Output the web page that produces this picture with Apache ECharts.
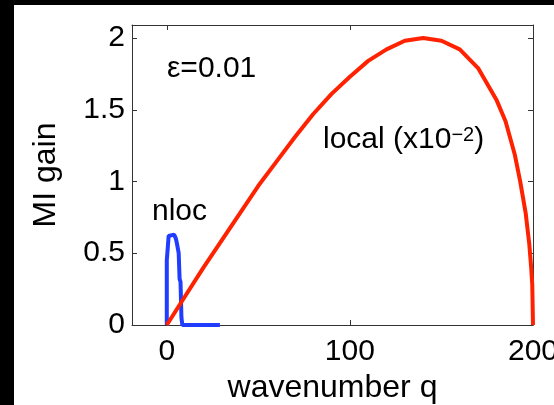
<!DOCTYPE html>
<html>
<head>
<meta charset="utf-8">
<script src="https://cdn.jsdelivr.net/npm/echarts@6/dist/echarts.min.js"></script>
<style>
html,body{margin:0;padding:0;background:#000;width:554px;height:405px;overflow:hidden;}
#c{position:absolute;left:14px;top:5px;width:540px;height:400px;background:#fff;}
</style>
</head>
<body>
<div id="c"></div>
<script>
// Data
const localQ = [0, 10, 20, 30, 40, 50, 60, 70, 80, 90, 100, 110, 120, 130, 140, 150, 160, 170, 180, 185, 190, 193, 196, 198, 199, 199.6, 200];
const localV = [0, 0.20, 0.40, 0.59, 0.78, 0.97, 1.14, 1.31, 1.47, 1.61, 1.73, 1.84, 1.92, 1.98, 2.00, 1.98, 1.92, 1.79, 1.57, 1.42, 1.19, 1.00, 0.78, 0.56, 0.40, 0.28, 0];
const nlocQ = [0, 0, 0.6, 1, 2, 4, 5, 5.5, 6, 6.5, 7, 7.5, 8, 8.5, 29];
const nlocV = [0, 0.45, 0.55, 0.62, 0.63, 0.63, 0.60, 0.57, 0.56, 0.50, 0.32, 0.30, 0.05, 0, 0];
const xTicks = [0, 100, 200];
const xTopTicks = [0, 100];
const yTicks = [0, 0.5, 1, 1.5, 2];
const xMin = -19, xMax = 200, yMin = 0, yMax = 2.09;

const FONT = '"Liberation Sans", Arial, Helvetica, sans-serif';
const pairs = (a, b) => a.map((v, i) => [v, b[i]]);
const FRAME = '#333';
const axisLineStyle = { color: FRAME, width: 1 };

const chart = echarts.init(document.getElementById('c'), null, { renderer: 'canvas' });
const baseGraphics = [
  { type: 'text', left: 153, top: 49, style: { text: 'ε=0.01', fill: '#000', font: '30px ' + FONT } },
  { type: 'text', left: 138, top: 192, style: { text: 'nloc', fill: '#000', font: '30px ' + FONT } },
  { type: 'text', left: 309, top: 120, style: {
      text: '{a|local (x10}{s|−2}{a|)}',
      rich: {
        a: { fontSize: 30, fontFamily: FONT, fill: '#000', color: '#000' },
        s: { fontSize: 20, fontFamily: FONT, fill: '#000', color: '#000', verticalAlign: 'top' }
      }
  } }
];
chart.setOption({
  backgroundColor: '#fff',
  animation: false,
  grid: { left: 118, top: 20, right: 21, bottom: 80, outerBoundsMode: 'none' },
  xAxis: [
    {
      type: 'value', position: 'bottom', min: xMin, max: xMax,
      axisLine: { show: true, onZero: false, lineStyle: axisLineStyle },
      axisTick: { show: false },
      axisLabel: { customValues: xTicks, color: '#000', fontSize: 30, fontFamily: FONT, margin: 12 },
      splitLine: { show: false },
      name: 'wavenumber q', nameLocation: 'middle', nameGap: 36,
      nameTextStyle: { color: '#000', fontSize: 32, fontFamily: FONT }
    },
    {
      type: 'value', position: 'top', min: xMin, max: xMax,
      axisLine: { show: true, onZero: false, lineStyle: axisLineStyle },
      axisTick: { show: false },
      axisLabel: { show: false },
      splitLine: { show: false }
    }
  ],
  yAxis: [
    {
      type: 'value', position: 'left', min: yMin, max: yMax,
      axisLine: { show: true, onZero: false, lineStyle: axisLineStyle },
      axisTick: { show: false },
      axisLabel: { customValues: yTicks, color: '#000', fontSize: 30, fontFamily: FONT, margin: 7 },
      splitLine: { show: false },
      name: 'MI gain', nameLocation: 'middle', nameGap: 70, nameRotate: 90,
      nameTextStyle: { color: '#000', fontSize: 32, fontFamily: FONT }
    },
    {
      type: 'value', position: 'right', min: yMin, max: yMax,
      axisLine: { show: true, onZero: false, lineStyle: axisLineStyle },
      axisTick: { show: false },
      axisLabel: { show: false },
      splitLine: { show: false }
    }
  ],
  series: [
    {
      name: 'nloc', type: 'line',
      data: pairs(nlocQ, nlocV), showSymbol: false, clip: false,
      lineStyle: { color: '#1f3cff', width: 4 }
    },
    {
      name: 'local', type: 'line',
      data: pairs(localQ, localV), showSymbol: false, clip: false,
      lineStyle: { color: '#ff2200', width: 4 }
    }
  ],
  graphic: baseGraphics
});

// Inward tick marks on all four sides, placed through the axes' own scales
const TL = 5;
const yBottom = chart.convertToPixel({ yAxisIndex: 0 }, yMin);
const yTop = chart.convertToPixel({ yAxisIndex: 0 }, yMax);
const xLeft = chart.convertToPixel({ xAxisIndex: 0 }, xMin);
const xRight = chart.convertToPixel({ xAxisIndex: 0 }, xMax);
const tickGraphics = [];
const tickStyle = { stroke: FRAME, lineWidth: 1 };
xTicks.forEach(v => {
  const px = Math.round(chart.convertToPixel({ xAxisIndex: 0 }, v)) + 0.5;
  tickGraphics.push({ type: 'line', z: 1, shape: { x1: px, y1: yBottom, x2: px, y2: yBottom - TL }, style: tickStyle });
});
xTopTicks.forEach(v => {
  const px = Math.round(chart.convertToPixel({ xAxisIndex: 0 }, v)) + 0.5;
  tickGraphics.push({ type: 'line', z: 1, shape: { x1: px, y1: yTop, x2: px, y2: yTop + TL }, style: tickStyle });
});
yTicks.forEach(v => {
  const py = Math.round(chart.convertToPixel({ yAxisIndex: 0 }, v)) + 0.5;
  tickGraphics.push({ type: 'line', z: 1, shape: { x1: xLeft, y1: py, x2: xLeft + TL, y2: py }, style: tickStyle });
  tickGraphics.push({ type: 'line', z: 1, shape: { x1: xRight, y1: py, x2: xRight - TL, y2: py }, style: tickStyle });
});
chart.setOption({ graphic: baseGraphics.concat(tickGraphics) });
</script>
</body>
</html>
